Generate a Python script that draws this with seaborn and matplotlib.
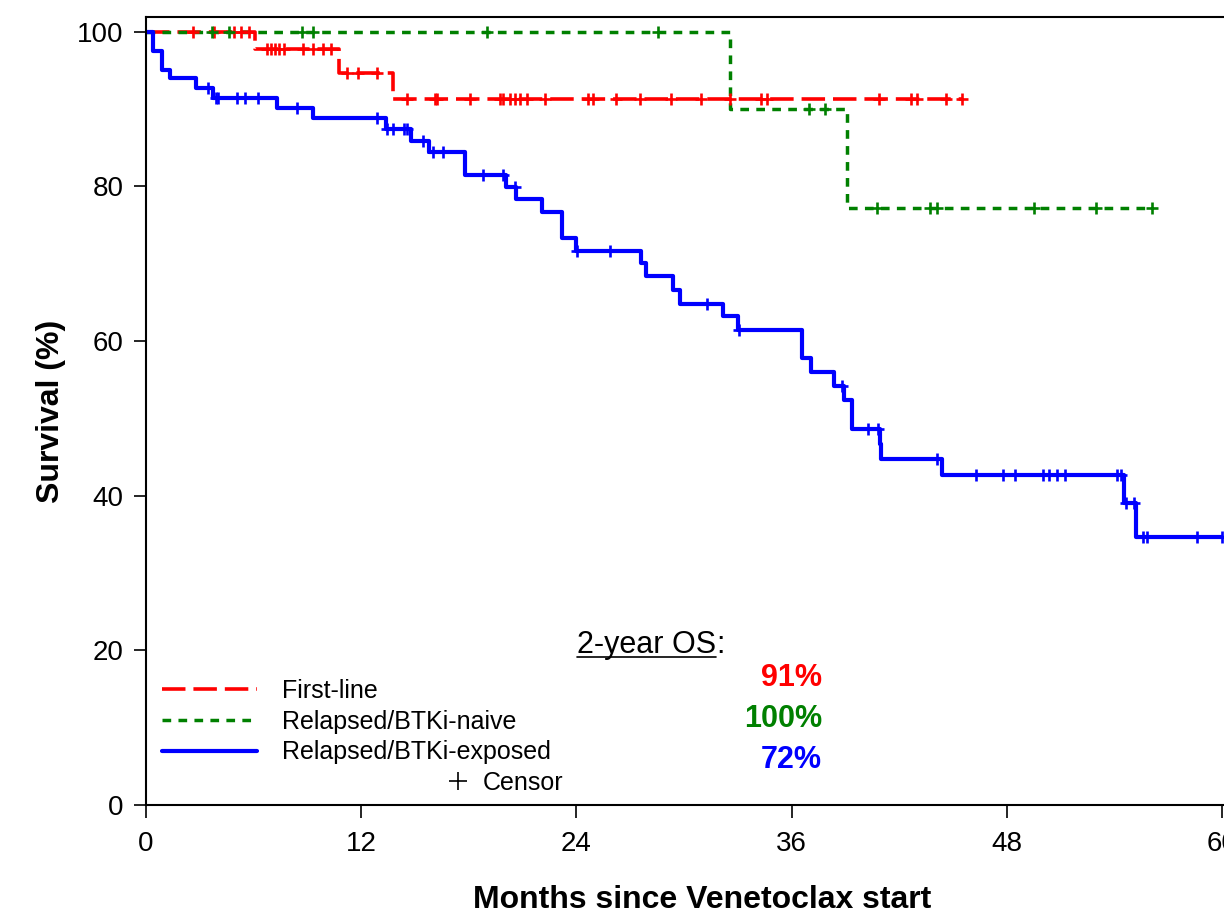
import numpy as np
import pandas as pd
import matplotlib
matplotlib.use("Agg")
import matplotlib.pyplot as plt
from matplotlib.lines import Line2D
import seaborn as sns

# Kaplan-Meier steps (months, survival %)
first_times = [0, 6.08, 10.78, 13.79, 45.52]
first_surv = [100, 97.8, 94.7, 91.3, 91.3]
first_cens = [2.64, 3.79, 4.91, 5.28, 5.76, 6.73, 6.95, 7.19, 7.43, 7.70, 8.74, 9.33,
              9.85, 10.3, 11.23, 11.84, 12.9, 14.54, 16.12, 16.21, 18.07, 19.74, 19.92,
              20.3, 20.58, 20.86, 21.23, 22.25, 24.67, 24.94, 26.21, 27.55, 29.26, 30.93,
              32.57, 34.28, 34.61, 40.88, 42.64, 42.98, 44.61, 45.52]

naive_times = [0, 32.57, 39.07, 56.12]
naive_surv = [100, 90.0, 77.2, 77.2]
naive_cens = [3.66, 4.65, 8.68, 9.33, 19.0, 28.57, 36.99, 37.86, 40.74, 43.72, 44.13,
              49.54, 52.97, 56.12]

exposed_times = [0, 0.37, 0.87, 1.34, 2.79, 3.75, 7.29, 9.29, 13.38, 14.76, 15.80, 17.79,
                 20.07, 20.63, 22.06, 23.18, 24.0, 27.58, 27.86, 29.37, 29.78, 32.16, 33.0,
                 36.56, 37.08, 38.36, 38.94, 39.35, 40.93, 41.0, 44.37, 54.55, 55.2, 60.0]
exposed_surv = [100, 97.45, 95.1, 94.0, 92.7, 91.4, 90.1, 88.9, 87.45, 85.9, 84.4, 81.5,
                79.9, 78.3, 76.7, 73.3, 71.7, 70.1, 68.35, 66.6, 64.8, 63.2, 61.4, 57.8,
                56.05, 54.2, 52.4, 48.6, 46.7, 44.7, 42.7, 39.1, 34.7, 34.7]
exposed_cens = [3.47, 3.90, 4.03, 5.06, 5.52, 6.26, 8.44, 12.9, 13.46, 13.79, 14.39, 14.54,
                15.43, 15.99, 16.58, 18.81, 19.92, 20.58, 24.05, 25.87, 31.27, 33.05, 38.79,
                40.28, 40.84, 44.09, 46.28, 47.77, 48.46, 50.0, 50.37, 50.78, 51.25, 54.16,
                54.35, 54.65, 55.1, 55.61, 55.84, 58.59, 59.98]

groups = ["First-line", "Relapsed/BTKi-naive", "Relapsed/BTKi-exposed"]
os_2yr = ["91%", "100%", "72%"]
x_ticks = [0, 12, 24, 36, 48, 60]
y_ticks = [0, 20, 40, 60, 80, 100]

colors = ["#FF0000", "#008000", "#0000FF"]
styles = [
    dict(lw=2.6, linestyle=(0, (6.5, 2.2))),
    dict(lw=2.5, linestyle=(0, (2.5, 2.1))),
    dict(lw=3.0, linestyle="-"),
]
curves = [(first_times, first_surv, first_cens),
          (naive_times, naive_surv, naive_cens),
          (exposed_times, exposed_surv, exposed_cens)]

sns.set_theme(style="ticks", rc={"text.color": "black", "axes.labelcolor": "black",
                                 "xtick.color": "black", "ytick.color": "black"})
plt.rcParams["font.family"] = ["Liberation Sans", "DejaVu Sans"]

fig = plt.figure(figsize=(12.24, 9.18), dpi=100)
ax = fig.add_axes([0.1193, 0.1231, 0.9084, 0.8584])

for (t, s, c), col, st in zip(curves, colors, styles):
    df = pd.DataFrame({"t": t, "s": s})
    sns.lineplot(data=df, x="t", y="s", ax=ax, color=col, drawstyle="steps-post",
                 estimator=None, sort=False, legend=False, **st)
    idx = np.searchsorted(np.array(t), np.array(c), side="right") - 1
    cs = np.array(s)[idx]
    sns.scatterplot(x=c, y=cs, ax=ax, marker="+", color=col, s=80, linewidth=1.9,
                    zorder=3, legend=False)

ax.set_xlim(0, 62)
ax.set_ylim(0, 101.9)
ax.set_xticks(x_ticks)
ax.set_yticks(y_ticks)
for sp in ax.spines.values():
    sp.set_linewidth(1.5)
    sp.set_color("black")
ax.tick_params(axis="both", length=9, width=1.2, colors="black", labelsize=20)
ax.tick_params(axis="x", pad=10)
ax.tick_params(axis="y", pad=7)
ax.set_xlabel("Months since Venetoclax start", fontsize=23, fontweight="bold",
              labelpad=20, color="black")
ax.set_ylabel("Survival (%)", fontsize=23, fontweight="bold", labelpad=8, color="black")

handles = [Line2D([], [], color=col, **st) for col, st in zip(colors, styles)]
leg = ax.legend(handles, groups, loc="upper left", bbox_to_anchor=(0.0144, 0.160),
                frameon=False, fontsize=18, handlelength=3.8, handletextpad=1.0,
                labelspacing=0.27, borderpad=0, borderaxespad=0, labelcolor="black")
ax.add_artist(leg)
cens_handle = Line2D([], [], color="black", marker="+", ls="none", markersize=13, mew=1.2)
ax.legend([cens_handle], ["Censor"], loc="upper left", bbox_to_anchor=(0.269, 0.043),
          frameon=False, fontsize=18, handlelength=1.0, handletextpad=0.5,
          borderpad=0, borderaxespad=0, labelcolor="black")

# 2-year OS inset
title = ax.text(24.03, 20.7, "2-year OS", fontsize=22, ha="left", va="center", color="black")
ax.annotate(":", xy=(1, 0), xycoords=title, ha="left", va="bottom", fontsize=22, color="black")
for lab, col, yv in zip(os_2yr, colors, [16.4, 11.1, 5.8]):
    ax.text(37.7, yv, lab, fontsize=22, fontweight="bold", color=col, ha="right", va="center")

fig.canvas.draw()
bb = title.get_window_extent()
W, H = fig.get_size_inches() * fig.dpi
uy = (bb.y0 + 3) / H
fig.add_artist(Line2D([bb.x0 / W, bb.x1 / W], [uy, uy], transform=fig.transFigure,
                      color="black", lw=1.2))

fig.savefig("out.png", dpi=100)
